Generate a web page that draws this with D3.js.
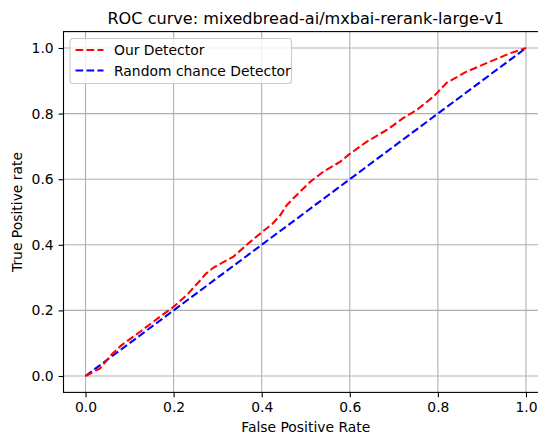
<!DOCTYPE html>
<html>
<head>
<meta charset="utf-8">
<title>roc curve</title>
<script src="https://cdn.jsdelivr.net/npm/d3@7/dist/d3.min.js"></script>
<style>
body {margin:0;background:#fff;}
svg text {font-family:"DejaVu Sans",sans-serif;fill:#000;}
</style>
</head>
<body>
<svg id="chart" width="538" height="434"></svg>
<script>
// values
var fpr = [0, 0.033, 0.056, 0.082, 0.124, 0.169, 0.2, 0.23, 0.256, 0.272, 0.29, 0.336, 0.366, 0.4, 0.425, 0.442, 0.457, 0.472,
           0.51, 0.54, 0.578, 0.597, 0.638, 0.684, 0.721, 0.752, 0.79, 0.82, 0.865, 0.918, 0.964, 1.0];
var tpr = [0, 0.023, 0.061, 0.094, 0.135, 0.181, 0.211, 0.247, 0.285, 0.31, 0.33, 0.364, 0.4, 0.438, 0.465, 0.49, 0.521, 0.542,
           0.592, 0.623, 0.653, 0.674, 0.714, 0.75, 0.786, 0.811, 0.852, 0.894, 0.928, 0.958, 0.984, 1.0];
var chance = [0, 1];
var ticks = [0, 0.2, 0.4, 0.6, 0.8, 1.0];
var seriesNames = ["Our Detector", "Random chance Detector"];
var seriesColors = ["red", "blue"];

var svg = d3.select("#chart");
// "top" is taken by window.top, so use other names
var axL = 63.5, axR = 548, axT = 31.6, axB = 392.4;

var x = d3.scaleLinear().domain([-0.05, 1.05]).range([axL, axR]);
var y = d3.scaleLinear().domain([-0.05, 1.05]).range([axB, axT]);

// grid
var grid = svg.append("g");
grid.selectAll(".gx").data(ticks).enter().append("line")
  .attr("x1", d => x(d)).attr("x2", d => x(d)).attr("y1", axT).attr("y2", axB)
  .attr("stroke", "#b0b0b0").attr("stroke-width", 1.1);
grid.selectAll(".gy").data(ticks).enter().append("line")
  .attr("y1", d => y(d)).attr("y2", d => y(d)).attr("x1", axL).attr("x2", axR)
  .attr("stroke", "#b0b0b0").attr("stroke-width", 1.1);

// axes
var fmt = d3.format(".1f");
var xAxis = svg.append("g").attr("transform", "translate(0," + axB + ")")
  .call(d3.axisBottom(x).tickValues(ticks).tickFormat(fmt).tickSize(4.9).tickPadding(4.9));
var yAxis = svg.append("g").attr("transform", "translate(" + axL + ",0)")
  .call(d3.axisLeft(y).tickValues(ticks).tickFormat(fmt).tickSize(4.9).tickPadding(4.9));
[xAxis, yAxis].forEach(function(a){
  a.select(".domain").remove();
  a.selectAll("text").attr("font-size", "13.9px").attr("font-family", "DejaVu Sans").attr("fill", "#000");
  a.selectAll("line").attr("stroke", "#000").attr("stroke-width", 1.1);
});

// spines
svg.append("rect").attr("x", axL).attr("y", axT).attr("width", axR - axL).attr("height", axB - axT)
  .attr("fill", "none").attr("stroke", "#000").attr("stroke-width", 1.1);

// lines
var line = d3.line().x(d => x(d[0])).y(d => y(d[1]));
var plot = svg.append("g");
plot.append("path").datum(chance.map((v, i) => [v, chance[i]]))
  .attr("d", line).attr("fill", "none").attr("stroke", seriesColors[1])
  .attr("stroke-width", 2.08).attr("stroke-dasharray", "7.7,3.3");
plot.append("path").datum(fpr.map((v, i) => [v, tpr[i]]))
  .attr("d", line).attr("fill", "none").attr("stroke", seriesColors[0])
  .attr("stroke-width", 2.08).attr("stroke-dasharray", "7.7,3.3");

// title and labels
svg.append("text").attr("x", (axL + axR) / 2).attr("y", 24).attr("text-anchor", "middle")
  .attr("font-size", "16.1px").text("ROC curve: mixedbread-ai/mxbai-rerank-large-v1");
svg.append("text").attr("x", (axL + axR) / 2).attr("y", 432).attr("text-anchor", "middle")
  .attr("font-size", "13.9px").text("False Positive Rate");
svg.append("text").attr("transform", "translate(22," + ((axT + axB) / 2) + ") rotate(-90)")
  .attr("text-anchor", "middle").attr("font-size", "13.9px").text("True Positive rate");

// legend
var lg = svg.append("g").attr("transform", "translate(70,38.5)");
lg.append("rect").attr("width", 221.5).attr("height", 45).attr("rx", 3)
  .attr("fill", "#fff").attr("fill-opacity", 0.8).attr("stroke", "#cccccc").attr("stroke-width", 1.1);
seriesNames.forEach(function(n, i){
  var yy = 11.5 + i * 20.5;
  lg.append("line").attr("x1", 5.5).attr("x2", 33.5).attr("y1", yy).attr("y2", yy)
    .attr("stroke", seriesColors[i]).attr("stroke-width", 2.08).attr("stroke-dasharray", "7.7,3.3");
  lg.append("text").attr("x", 44).attr("y", yy + 5).attr("font-size", "13.9px").text(n);
});
</script>
</body>
</html>
